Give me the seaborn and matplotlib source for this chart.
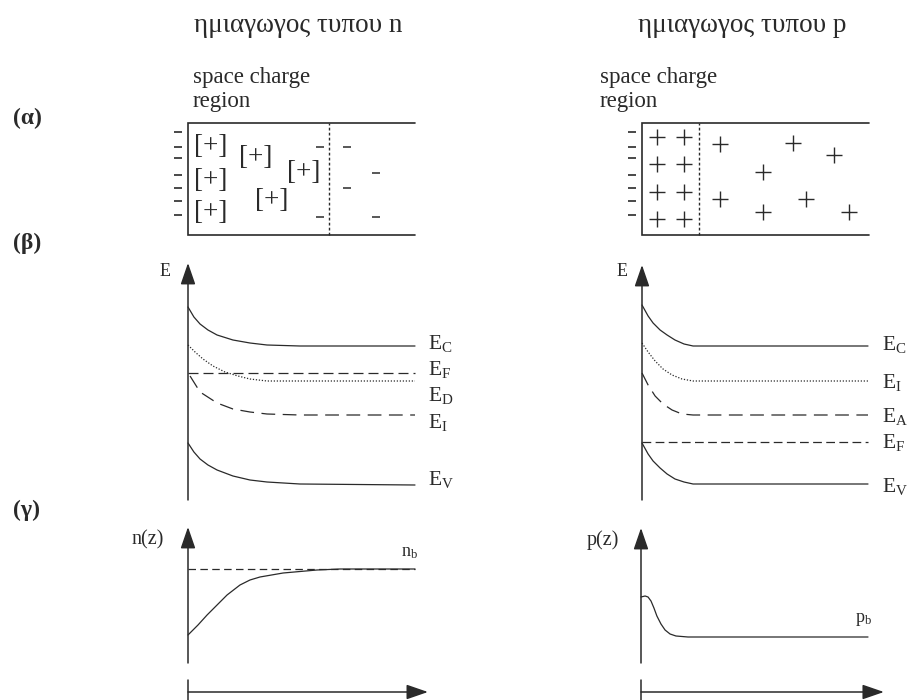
import matplotlib
matplotlib.use("Agg")
import matplotlib.pyplot as plt
import seaborn as sns

# ---------------- data ----------------
titles = ["ημιαγωγος τυπου n", "ημιαγωγος τυπου p"]
panel_labels = ["(α)", "(β)", "(γ)"]
scr_lines = ["space charge", "region"]

# (α) charge sketch: z = depth (0..1), h = height inside slab (0..1)
n_boundary_z = 0.62
n_donor_z = [0.10, 0.10, 0.10, 0.30, 0.51, 0.37]
n_donor_h = [0.79, 0.49, 0.20, 0.69, 0.56, 0.31]
n_electron_z = [0.58, 0.58, 0.70, 0.70, 0.83, 0.83]
n_electron_h = [0.79, 0.16, 0.79, 0.42, 0.55, 0.16]
surface_z = [-0.044, -0.044, -0.044, -0.044, -0.044, -0.044, -0.044]
surface_h = [0.92, 0.79, 0.69, 0.54, 0.42, 0.30, 0.18]
p_boundary_z = 0.25
p_hole_z = [0.066, 0.066, 0.066, 0.066, 0.186, 0.186, 0.186, 0.186,
            0.345, 0.664, 0.845, 0.535, 0.345, 0.721, 0.535, 0.911]
p_hole_h = [0.875, 0.634, 0.384, 0.143, 0.875, 0.634, 0.384, 0.143,
            0.81, 0.82, 0.71, 0.56, 0.32, 0.32, 0.205, 0.205]

# (β) band diagrams, n-type
zn_c = [0, 0.026, 0.053, 0.088, 0.128, 0.198, 0.273, 0.348, 0.493, 1.0]
En_c = [19.3, 18.3, 17.6, 17.0, 16.5, 16.0, 15.7, 15.5, 15.4, 15.4]
En_v = [5.7, 4.8, 4.1, 3.5, 3.0, 2.4, 2.0, 1.8, 1.6, 1.5]
zn_d = [0, 0.031, 0.066, 0.11, 0.163, 0.22, 0.273, 0.348, 1.0]
En_d = [15.5, 14.8, 14.1, 13.4, 12.8, 12.4, 12.1, 11.9, 11.9]
zn_f = [0, 1.0]
En_f = [12.7, 12.7]
zn_i = [0.009, 0.053, 0.128, 0.198, 0.273, 0.348, 0.493, 1.0]
En_i = [12.4, 10.8, 9.7, 9.1, 8.8, 8.6, 8.5, 8.5]

# (β) band diagrams, p-type
zp = [0, 0.027, 0.049, 0.08, 0.111, 0.146, 0.186, 0.226, 1.0]
Ep_c = [19.5, 18.4, 17.7, 17.0, 16.5, 16.0, 15.6, 15.4, 15.4]
Ep_v = [5.7, 4.6, 3.9, 3.2, 2.6, 2.1, 1.8, 1.6, 1.6]
zp_b = [0, 0.027, 0.058, 0.093, 0.133, 0.177, 0.226, 1.0]
Ep_i = [15.7, 14.8, 13.9, 13.1, 12.5, 12.1, 11.9, 11.9]
Ep_a = [12.7, 11.5, 10.4, 9.6, 9.0, 8.6, 8.5, 8.5]
zp_f = [0, 1.0]
Ep_f = [5.8, 5.8]

n_level_names = ["C", "F", "D", "I", "V"]
p_level_names = ["C", "I", "A", "F", "V"]

# (γ) carrier concentrations
zn_n = [0, 0.044, 0.084, 0.128, 0.172, 0.229, 0.273, 0.317, 0.419, 0.568, 0.67, 1.0]
n_z = [2.8, 3.8, 4.8, 5.8, 6.8, 7.8, 8.3, 8.6, 9.0, 9.3, 9.4, 9.4]
n_b = 9.4
zp_p = [0, 0.018, 0.031, 0.044, 0.057, 0.07, 0.088, 0.106, 0.128, 0.154, 0.207, 1.0]
p_z = [6.6, 6.7, 6.6, 6.2, 5.5, 4.7, 3.9, 3.3, 2.9, 2.7, 2.6, 2.6]

# ---------------- style ----------------
sns.set_theme(style="white")
plt.rcParams["font.family"] = ["Liberation Serif", "DejaVu Serif"]
plt.rcParams["mathtext.fontset"] = "custom"
plt.rcParams["mathtext.rm"] = "Liberation Serif"
plt.rcParams["mathtext.it"] = "Liberation Serif:italic"
INK = "#2a2a2a"
W, H = 910, 700
fig = plt.figure(figsize=(W / 100, H / 100), dpi=100)
fig.patch.set_facecolor("white")

ax0 = fig.add_axes([0, 0, 1, 1])
ax0.set_xlim(0, W)
ax0.set_ylim(H, 0)
ax0.set_axis_off()


def add_axes(x0, sx, y0, sy, xlim, ylim):
    left = x0 + xlim[0] * sx
    right = x0 + xlim[1] * sx
    bottom = y0 - ylim[0] * sy
    top = y0 - ylim[1] * sy
    ax = fig.add_axes([left / W, 1 - bottom / H, (right - left) / W, (bottom - top) / H])
    ax.set_xlim(*xlim)
    ax.set_ylim(*ylim)
    ax.set_axis_off()
    ax.patch.set_alpha(0)
    return ax


def curve(ax, z, v, ls="-", lw=0.9):
    sns.lineplot(x=z, y=v, ax=ax, color=INK, linewidth=lw, linestyle=ls,
                 sort=False, estimator=None, legend=False)
    for ln in ax.lines:
        ln.set_clip_on(False)


def arrow(ax, start, end, hl=1.1, hw=0.38):
    ax.annotate("", xy=end, xytext=start,
                arrowprops=dict(arrowstyle=f"-|>,head_length={hl},head_width={hw}",
                                color=INK, lw=1.1, shrinkA=0, shrinkB=0),
                annotation_clip=False)


# ---------------- titles & labels ----------------
ax0.text(298, 25, titles[0], ha="center", va="center", fontsize=19.5, color=INK)
ax0.text(742, 25, titles[1], ha="center", va="center", fontsize=19.5, color=INK)
for lab, y in zip(panel_labels, [118, 243, 510]):
    ax0.text(27, y, lab, ha="center", va="center", fontsize=17, fontweight="bold", color=INK)
for x in (193, 600):
    ax0.text(x, 77, scr_lines[0], ha="left", va="center", fontsize=16.5, color=INK)
    ax0.text(x, 102, scr_lines[1], ha="left", va="center", fontsize=16.5, color=INK)

XL, XR = 188, 642

# ---------------- (α) ----------------
for x0, bz in ((XL, n_boundary_z), (XR, p_boundary_z)):
    a = add_axes(x0, 227, 235, 112, (-0.12, 1.06), (-0.15, 1.15))
    a.plot([1.0, 0, 0, 1.0], [1, 1, 0, 0], color=INK, lw=1.2, solid_joinstyle="miter")
    a.plot([bz, bz], [0, 1], color=INK, lw=1.0, linestyle=(0, (2, 1.6)))
    sns.scatterplot(x=surface_z, y=surface_h, ax=a, marker="_", s=40, color=INK,
                    linewidth=1.2, legend=False)
    if x0 == XL:
        for z, h in zip(n_donor_z, n_donor_h):
            a.text(z, h, "[+]", ha="center", va="center", fontsize=19.5, color=INK)
        sns.scatterplot(x=n_electron_z, y=n_electron_h, ax=a, marker="_", s=35,
                        color=INK, linewidth=1.1, legend=False)
    else:
        sns.scatterplot(x=p_hole_z, y=p_hole_h, ax=a, marker="+", s=120,
                        color=INK, linewidth=1.0, legend=False)

# ---------------- (β) ----------------
bn = add_axes(XL, 227, 500, 10, (-0.3, 1.3), (0, 25))
arrow(bn, (0, 0), (0, 23.7))
curve(bn, zn_c, En_c)
curve(bn, zn_c, En_v)
curve(bn, zn_d, En_d, ls=(0, (1, 1.4)))
curve(bn, zn_f, En_f, ls=(0, (8, 4)))
curve(bn, zn_i, En_i, ls=(0, (11, 6)))
bn.text(-0.1, 22.8, "E", ha="center", va="center", fontsize=13, color=INK)
for name, yb in zip(n_level_names, [15.1, 12.5, 9.9, 7.2, 1.5]):
    bn.text(1.057, yb, "E" + r"$_{\mathrm{" + name + "}}$", ha="left", va="baseline",
            fontsize=15.5, color=INK)

bp = add_axes(XR, 226, 500, 10, (-0.3, 1.3), (0, 25))
arrow(bp, (0, 0), (0, 23.5))
curve(bp, zp, Ep_c)
curve(bp, zp, Ep_v)
curve(bp, zp_b, Ep_i, ls=(0, (1, 1.4)))
curve(bp, zp_b, Ep_a, ls=(0, (11, 6)))
curve(bp, zp_f, Ep_f, ls=(0, (7, 3.5)))
bp.text(-0.09, 22.8, "E", ha="center", va="center", fontsize=13, color=INK)
for name, yb in zip(p_level_names, [15.0, 11.2, 7.8, 5.2, 0.8]):
    bp.text(1.062, yb, "E" + r"$_{\mathrm{" + name + "}}$", ha="left", va="baseline",
            fontsize=15.5, color=INK)

# ---------------- (γ) ----------------
gn = add_axes(XL, 227, 663, 10, (-0.3, 1.3), (-3.7, 14))
arrow(gn, (0, 0), (0, 13.6))
gn.plot([0, 0], [-1.7, -3.7], color=INK, lw=1.1, clip_on=False)
arrow(gn, (0, -2.9), (1.057, -2.9))
curve(gn, zn_n, n_z)
curve(gn, [0, 1.0], [n_b, n_b], ls=(0, (6, 3.5)))
gn.text(-0.177, 12.3, "n(z)", ha="center", va="center", fontsize=14.5, color=INK)
gn.text(0.976, 11.1, r"n$_\mathrm{b}$", ha="center", va="center", fontsize=13, color=INK)

gp = add_axes(641, 227, 663, 10, (-0.3, 1.3), (-3.7, 14))
arrow(gp, (0, 0), (0, 13.5))
gp.plot([0, 0], [-1.7, -3.7], color=INK, lw=1.1, clip_on=False)
arrow(gp, (0, -2.9), (1.07, -2.9))
curve(gp, zp_p, p_z)
gp.text(-0.167, 12.3, "p(z)", ha="center", va="center", fontsize=14.5, color=INK)
gp.text(0.98, 4.3, r"p$_\mathrm{b}$", ha="center", va="center", fontsize=13, color=INK)

fig.savefig("out.png", dpi=100, facecolor="white")
